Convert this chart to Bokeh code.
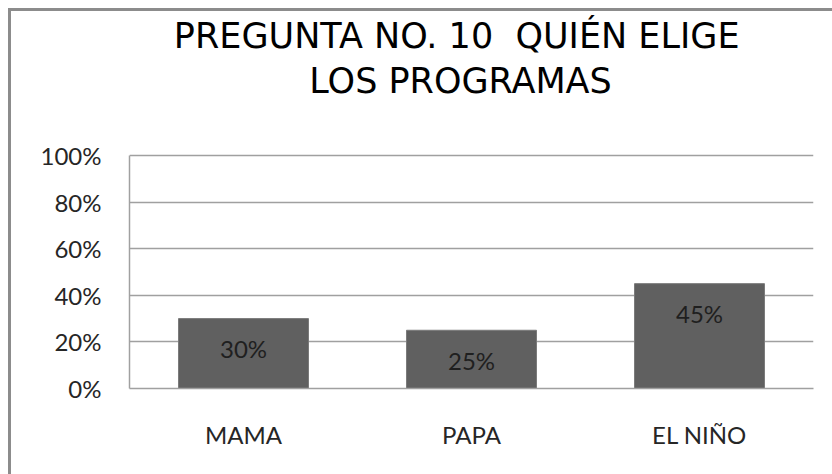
from bokeh.plotting import figure
from bokeh.models import Label, NumeralTickFormatter, FixedTicker, ColumnDataSource, Range1d
from bokeh.core.properties import value
from bokeh.embed import file_html
from bokeh.resources import INLINE

categories = ["MAMA", "PAPA", "EL NIÑO"]
values = [0.30, 0.25, 0.45]
labels = ["30%", "25%", "45%"]
y_ticks = [0, 0.2, 0.4, 0.6, 0.8, 1.0]
title_lines = ["PREGUNTA NO. 10 \u00a0QUIÉN ELIGE", "LOS PROGRAMAS"]

src = ColumnDataSource(dict(cat=categories, val=values, lab=labels))

# layout (pixels): frame spans from the canvas top to 377 px below it;
# the 0..1 value axis takes the bottom 233 px, the title sits above it
FRAME_H = 377
UNIT_PX = 233
y_top = FRAME_H / UNIT_PX

p = figure(x_range=categories, width=824, height=466, output_backend="svg",
           toolbar_location=None, min_border_left=118, min_border_right=22,
           min_border_top=0, min_border_bottom=89)
p.margin = (8, 0, 0, 8)
p.styles = {"border-left": "3px solid #8c8c8c", "border-top": "3px solid #8c8c8c"}
p.y_range = Range1d(0, y_top)
p.x_range.range_padding = 0

p.vbar(x="cat", top="val", width=0.57, source=src, fill_color="#606060",
       line_color="#7a7a7a", line_width=1)
p.text(x="cat", y="val", text="lab", source=src, y_offset=30,
       text_align="center", text_baseline="middle", text_color="#1f1f1f",
       text_font=value("Lato"), text_font_size="24px")

p.add_layout(Label(x=1.435, y=(FRAME_H - 24) / UNIT_PX, text=title_lines[0],
                   text_align="center", text_baseline="alphabetic",
                   text_font="DejaVu Sans", text_font_size="35px", text_color="#000000"))
p.add_layout(Label(x=1.452, y=(FRAME_H - 69) / UNIT_PX, text=title_lines[1],
                   text_align="center", text_baseline="alphabetic",
                   text_font="DejaVu Sans", text_font_size="35px", text_color="#000000"))

p.outline_line_color = None
p.xgrid.grid_line_color = None
p.ygrid.grid_line_color = "#a0a0a0"
p.ygrid.grid_line_width = 1.5
p.yaxis.ticker = FixedTicker(ticks=y_ticks)
p.yaxis.formatter = NumeralTickFormatter(format="0%")
p.yaxis.bounds = (0, 1)
p.yaxis.axis_line_color = "#a0a0a0"
p.yaxis.axis_line_width = 1.5
p.xaxis.axis_line_color = "#a0a0a0"
p.xaxis.axis_line_width = 1.5
for ax in (p.xaxis, p.yaxis):
    ax.major_tick_line_color = None
    ax.minor_tick_line_color = None
    ax.major_label_text_font = "Lato"
    ax.major_label_text_font_size = "24px"
    ax.major_label_text_color = "#262626"
p.yaxis.major_label_standoff = 22
p.xaxis.major_label_standoff = 25

open("out.html", "w").write(file_html(p, INLINE))
